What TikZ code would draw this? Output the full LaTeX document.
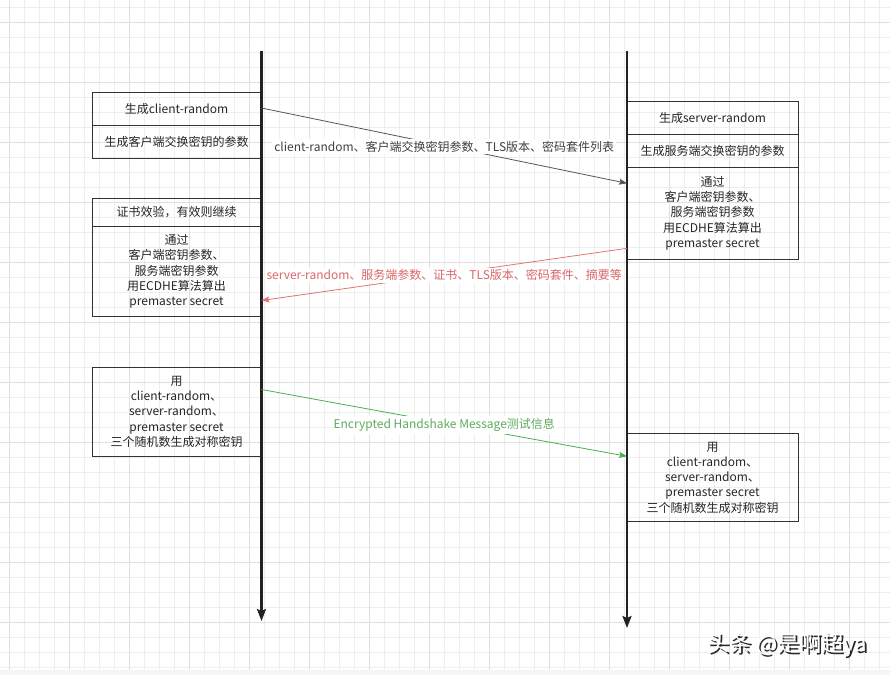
\documentclass[tikz,border=0pt]{standalone}
\usepackage{fontspec}
\setmainfont{Noto Sans CJK SC}
\usetikzlibrary{arrows.meta,positioning}
\definecolor{lifeline}{HTML}{222222}
\definecolor{msggray}{HTML}{555555}
\definecolor{msgred}{HTML}{E07272}
\definecolor{msgredtext}{HTML}{D8676A}
\definecolor{msggreen}{HTML}{4DAE4D}
\definecolor{msggreentext}{HTML}{5EAA5E}
\definecolor{gridminor}{HTML}{EEEEEE}
\definecolor{gridmajor}{HTML}{E0E0E0}

\begin{document}
\begin{tikzpicture}[x=1pt, y=-1pt,
    font=\fontsize{12}{15.3}\selectfont,
    gridline/.style={draw=gridminor, line width=0.6pt},
    gridbold/.style={draw=gridmajor, line width=0.8pt},
    lcell/.style={draw=black!80, line width=0.8pt, anchor=north west, minimum width=169pt, align=center, inner sep=0pt, outer sep=0pt, text=black!85},
    rcell/.style={lcell, minimum width=171pt},
    lifelinestyle/.style={draw=lifeline, line width=2.2pt, -{Stealth[length=12pt,width=9pt,inset=2pt]}},
    msg/.style={line width=0.8pt, -{Stealth[length=8pt,width=6pt,inset=1.5pt]}},
    msglabel/.style={fill=white, inner sep=2pt},
    markfont/.style={font=\fontsize{22}{22}\selectfont, inner sep=0pt}
  ]
  \useasboundingbox (0,0) rectangle (890,675);
  \fill[white] (0,0) rectangle (890,675);
  \foreach \i in {0,...,58} \draw[gridline] ({9.3+15*\i},0) -- ({9.3+15*\i},675);
  \foreach \i in {0,...,44} \draw[gridline] (0,{7.7+15*\i}) -- (890,{7.7+15*\i});
  \foreach \i in {0,...,14} \draw[gridbold] ({9.3+60*\i},0) -- ({9.3+60*\i},675);
  \foreach \i in {0,...,10} \draw[gridbold] (0,{22.7+60*\i}) -- (890,{22.7+60*\i});
  \fill[black!4] (0,670) rectangle (890,675);

  % client side
  \node[lcell, minimum height=33pt] (genClient) at (92,92) {生成client-random};
  \node[lcell, minimum height=33pt] (genClientKey) at (genClient.south west) {生成客户端交换密钥的参数};
  \node[lcell, minimum height=27.7pt] (certCheck) at (92,198.3) {证书效验，有效则继续};
  \node[lcell, minimum height=90.7pt] (cliPremaster) at (certCheck.south west) {通过\\客户端密钥参数、\\服务端密钥参数\\用ECDHE算法算出\\premaster secret};
  \node[lcell, minimum height=88.7pt] (cliSession) at (92,367.3) {用\\client-random、\\server-random、\\premaster secret\\三个随机数生成对称密钥};

  % server side
  \node[rcell, minimum height=32.3pt] (genServer) at (627,101.7) {生成server-random};
  \node[rcell, minimum height=33.3pt] (genServerKey) at (genServer.south west) {生成服务端交换密钥的参数};
  \node[rcell, minimum height=92pt] (srvPremaster) at (genServerKey.south west) {通过\\客户端密钥参数、\\服务端密钥参数\\用ECDHE算法算出\\premaster secret};
  \node[rcell, minimum height=88.4pt] (srvSession) at (627,433.3) {用\\client-random、\\server-random、\\premaster secret\\三个随机数生成对称密钥};

  \coordinate (cliTop) at (261.5,51);
  \coordinate (cliEnd) at (261.5,621);
  \coordinate (srvTop) at (627,51);
  \coordinate (srvEnd) at (627,628);
  \draw[lifelinestyle] (cliTop) -- (cliEnd);
  \draw[lifelinestyle] (srvTop) -- (srvEnd);

  \coordinate (helloOut) at (261.5,108);
  \coordinate (helloIn) at (627,183.3);
  \coordinate (replyOut) at (627,248.3);
  \coordinate (replyIn) at (261.5,300.5);
  \coordinate (finOut) at (261.5,389.5);
  \coordinate (finIn) at (627,456.3);

  \draw[msg, msggray] (helloOut) -- node[msglabel, text=black!75, yshift=-1pt]{client-random、客户端交换密钥参数、TLS版本、密码套件列表} (helloIn);
  \draw[msg, msgred] (replyOut) -- node[msglabel, text=msgredtext, yshift=-1pt]{server-random、服务端参数、证书、TLS版本、密码套件、摘要等} (replyIn);
  \draw[msg, msggreen] (finOut) -- node[msglabel, text=msggreentext, yshift=-2pt]{Encrypted Handshake Message测试信息} (finIn);

  \node[markfont, text=black!85] (markShadow) at (789,646.5) {头条 @是啊超ya};
  \node[markfont, text=white] (mark) at (787.5,645) {头条 @是啊超ya};
\end{tikzpicture}
\end{document}
